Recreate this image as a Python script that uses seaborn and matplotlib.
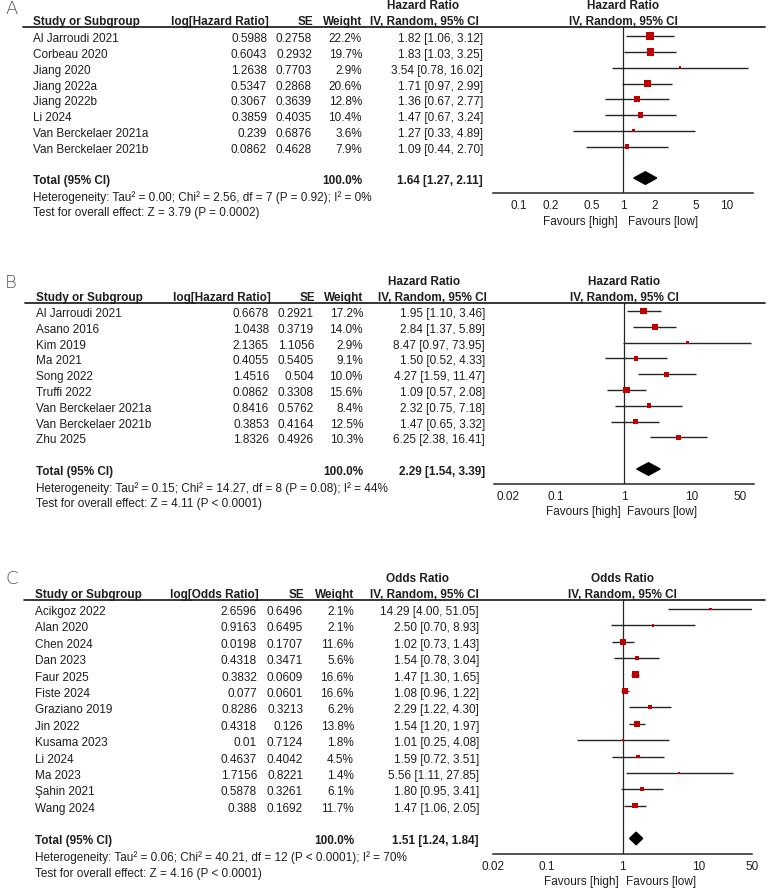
import matplotlib
matplotlib.use("Agg")
import matplotlib.pyplot as plt
import seaborn as sns
import pandas as pd

sns.set_style("white")
plt.rcParams['font.family'] = ['Liberation Sans', 'DejaVu Sans']

# Panel A: hazard ratio (outcome 1)
studies_a = ["Al Jarroudi 2021", "Corbeau 2020", "Jiang 2020", "Jiang 2022a", "Jiang 2022b",
             "Li 2024", "Van Berckelaer 2021a", "Van Berckelaer 2021b"]
loghr_a = [0.5988, 0.6043, 1.2638, 0.5347, 0.3067, 0.3859, 0.239, 0.0862]
se_a = [0.2758, 0.2932, 0.7703, 0.2868, 0.3639, 0.4035, 0.6876, 0.4628]
weight_a = [22.2, 19.7, 2.9, 20.6, 12.8, 10.4, 3.6, 7.9]
hr_a = [1.82, 1.83, 3.54, 1.71, 1.36, 1.47, 1.27, 1.09]
lo_a = [1.06, 1.03, 0.78, 0.97, 0.67, 0.67, 0.33, 0.44]
hi_a = [3.12, 3.25, 16.02, 2.99, 2.77, 3.24, 4.89, 2.70]
total_a = [1.64, 1.27, 2.11]
het_a = "Heterogeneity: Tau² = 0.00; Chi² = 2.56, df = 7 (P = 0.92); I² = 0%"
test_a = "Test for overall effect: Z = 3.79 (P = 0.0002)"
ticks_a = [0.1, 0.2, 0.5, 1, 2, 5, 10]

# Panel B: hazard ratio (outcome 2)
studies_b = ["Al Jarroudi 2021", "Asano 2016", "Kim 2019", "Ma 2021", "Song 2022", "Truffi 2022",
             "Van Berckelaer 2021a", "Van Berckelaer 2021b", "Zhu 2025"]
loghr_b = [0.6678, 1.0438, 2.1365, 0.4055, 1.4516, 0.0862, 0.8416, 0.3853, 1.8326]
se_b = [0.2921, 0.3719, 1.1056, 0.5405, 0.504, 0.3308, 0.5762, 0.4164, 0.4926]
weight_b = [17.2, 14.0, 2.9, 9.1, 10.0, 15.6, 8.4, 12.5, 10.3]
hr_b = [1.95, 2.84, 8.47, 1.50, 4.27, 1.09, 2.32, 1.47, 6.25]
lo_b = [1.10, 1.37, 0.97, 0.52, 1.59, 0.57, 0.75, 0.65, 2.38]
hi_b = [3.46, 5.89, 73.95, 4.33, 11.47, 2.08, 7.18, 3.32, 16.41]
total_b = [2.29, 1.54, 3.39]
het_b = "Heterogeneity: Tau² = 0.15; Chi² = 14.27, df = 8 (P = 0.08); I² = 44%"
test_b = "Test for overall effect: Z = 4.11 (P < 0.0001)"
ticks_b = [0.02, 0.1, 1, 10, 50]

# Panel C: odds ratio
studies_c = ["Acikgoz 2022", "Alan 2020", "Chen 2024", "Dan 2023", "Faur 2025", "Fiste 2024",
             "Graziano 2019", "Jin 2022", "Kusama 2023", "Li 2024", "Ma 2023", "Şahin 2021", "Wang 2024"]
logor_c = [2.6596, 0.9163, 0.0198, 0.4318, 0.3832, 0.077, 0.8286, 0.4318, 0.01, 0.4637, 1.7156, 0.5878, 0.388]
se_c = [0.6496, 0.6495, 0.1707, 0.3471, 0.0609, 0.0601, 0.3213, 0.126, 0.7124, 0.4042, 0.8221, 0.3261, 0.1692]
weight_c = [2.1, 2.1, 11.6, 5.6, 16.6, 16.6, 6.2, 13.8, 1.8, 4.5, 1.4, 6.1, 11.7]
or_c = [14.29, 2.50, 1.02, 1.54, 1.47, 1.08, 2.29, 1.54, 1.01, 1.59, 5.56, 1.80, 1.47]
lo_c = [4.00, 0.70, 0.73, 0.78, 1.30, 0.96, 1.22, 1.20, 0.25, 0.72, 1.11, 0.95, 1.06]
hi_c = [51.05, 8.93, 1.43, 3.04, 1.65, 1.22, 4.30, 1.97, 4.08, 3.51, 27.85, 3.41, 2.05]
total_c = [1.51, 1.24, 1.84]
het_c = "Heterogeneity: Tau² = 0.06; Chi² = 40.21, df = 12 (P < 0.0001); I² = 70%"
test_c = "Test for overall effect: Z = 4.16 (P < 0.0001)"
ticks_c = [0.02, 0.1, 1, 10, 50]

W, H = 770, 893
FS = 8.5
TXT = '#1e1e1e'
LINE = '#262626'
RED = '#c00000'

fig = plt.figure(figsize=(W / 100, H / 100), dpi=100)
page = fig.add_axes([0, 0, 1, 1])
page.set_xlim(0, W)
page.set_ylim(H, 0)
page.axis('off')


def panel(letter, lay, names, est_log, se, weight, est, lo, hi, total, het, test,
          measure, est_label, xlim, ticks):
    top = lay['top']
    hy = top + 16
    line_y = hy + 4.5
    # panel letter
    page.text(lay['letter'][0], lay['letter'][1], letter, fontsize=13, color='#555555',
              ha='center', va='center', family=['DejaVu Sans'], fontweight='light')
    # table headers
    page.text(lay['mhead'], top, measure, fontsize=FS, fontweight='bold', color=TXT,
              ha='center', va='center')
    page.text(lay['name'], hy, "Study or Subgroup", fontsize=FS, fontweight='bold', color=TXT,
              va='center')
    page.text(lay['log'], hy, est_label, fontsize=FS, fontweight='bold', color=TXT,
              ha='right', va='center')
    page.text(lay['se'], hy, "SE", fontsize=FS, fontweight='bold', color=TXT,
              ha='right', va='center')
    page.text(lay['w'], hy, "Weight", fontsize=FS, fontweight='bold', color=TXT,
              ha='right', va='center')
    page.text(lay['ivx'], hy, "IV, Random, 95% CI", fontsize=FS, fontweight='bold', color=TXT,
              va='center')
    page.plot([lay['line0'], 765], [line_y, line_y], color=LINE, lw=1.3)

    step = lay['step']
    rows = [lay['row0'] + i * step for i in range(len(names))]
    for y, n, e, s, w, m, l, h in zip(rows, names, est_log, se, weight, est, lo, hi):
        page.text(lay['name'], y, n, fontsize=FS, color=TXT, va='center')
        page.text(lay['log'] - 2, y, str(e), fontsize=FS, color=TXT, ha='right', va='center')
        page.text(lay['se'] - 1, y, str(s), fontsize=FS, color=TXT, ha='right', va='center')
        page.text(lay['w'], y, f"{w:.1f}%", fontsize=FS, color=TXT, ha='right', va='center')
        page.text(lay['ci'], y, f"{m:.2f} [{l:.2f}, {h:.2f}]", fontsize=FS, color=TXT,
                  ha='right', va='center')
    ty = rows[-1] + 2 * step
    page.text(lay['name'], ty, "Total (95% CI)", fontsize=FS, fontweight='bold', color=TXT, va='center')
    page.text(lay['w'], ty, "100.0%", fontsize=FS, fontweight='bold', color=TXT, ha='right', va='center')
    page.text(lay['ci'], ty, f"{total[0]:.2f} [{total[1]:.2f}, {total[2]:.2f}]", fontsize=FS,
              fontweight='bold', color=TXT, ha='right', va='center')
    page.text(lay['name'], ty + 16.3, het, fontsize=FS, color=TXT, va='center')
    page.text(lay['name'], ty + 32.3, test, fontsize=FS, color=TXT, va='center')

    # forest plot
    x0, x1, ay = lay['plot_x0'], lay['plot_x1'], lay['axis']
    ax = fig.add_axes([x0 / W, 1 - ay / H, (x1 - x0) / W, (ay - line_y) / H])
    ax.set_xscale('log')
    ax.set_xlim(*xlim)
    ax.set_ylim(ay, line_y)
    ax.patch.set_alpha(0)
    for sp in ['top', 'left', 'right']:
        ax.spines[sp].set_visible(False)
    ax.spines['bottom'].set_color(LINE)
    ax.spines['bottom'].set_linewidth(1.1)
    ax.set_yticks([])
    ax.set_xticks(ticks)
    ax.set_xticklabels([f"{t:g}" for t in ticks])
    ax.minorticks_off()
    ax.tick_params(axis='x', direction='inout', length=5.5, width=1.0, color=LINE,
                   labelsize=FS, labelcolor=TXT, pad=2.5)
    ax.axvline(1, color=LINE, lw=0.9, zorder=1)

    my = [r - 3 for r in rows]
    ax.hlines(my, lo, hi, color=LINE, lw=1.0, zorder=2)
    df = pd.DataFrame({'est': est, 'y': my, 'w': weight})
    k = 1.35
    sns.scatterplot(data=df, x='est', y='y', size='w', sizes=(min(weight) * k, max(weight) * k),
                    marker='s', color=RED, linewidth=0, edgecolor='none', legend=False,
                    ax=ax, zorder=3)
    dy = ty - 3
    ax.fill([total[1], total[0], total[2], total[0]], [dy, dy - 6.3, dy, dy + 6.3],
            color='black', zorder=3)
    ax.set_xlabel('')
    ax.set_ylabel('')
    ax.text(1, top, measure, fontsize=FS, fontweight='bold', color=TXT, ha='center', va='center',
            clip_on=False)
    ax.text(1, hy, "IV, Random, 95% CI", fontsize=FS, fontweight='bold', color=TXT,
            ha='center', va='center', clip_on=False)
    ax.text(0.9, ay + 28.5, "Favours [high]", fontsize=FS, color=TXT, ha='right', va='center',
            clip_on=False)
    ax.text(1.11, ay + 28.5, "Favours [low]", fontsize=FS, color=TXT, ha='left', va='center',
            clip_on=False)


lay_a = dict(top=6, letter=(12, 9), name=33, log=269, se=313, w=362, ci=483, ivx=370, mhead=423,
             line0=23, row0=39.3, step=15.75, plot_x0=493, plot_x1=753, axis=193)
lay_b = dict(top=282, letter=(11, 282.5), name=36, log=271, se=315, w=363, ci=485, ivx=378,
             mhead=424, line0=25, row0=314, step=15.8, plot_x0=494, plot_x1=754, axis=484)
lay_c = dict(top=579, letter=(12, 579), name=35, log=259, se=304, w=354, ci=479, ivx=370,
             mhead=418, line0=24, row0=612, step=16.39, plot_x0=493, plot_x1=752, axis=854)

panel("A", lay_a, studies_a, loghr_a, se_a, weight_a, hr_a, lo_a, hi_a, total_a, het_a, test_a,
      "Hazard Ratio", "log[Hazard Ratio]", (10 ** -1.25, 10 ** 1.25), ticks_a)
panel("B", lay_b, studies_b, loghr_b, se_b, weight_b, hr_b, lo_b, hi_b, total_b, het_b, test_b,
      "Hazard Ratio", "log[Hazard Ratio]", (10 ** -1.91, 10 ** 1.91), ticks_b)
panel("C", lay_c, studies_c, logor_c, se_c, weight_c, or_c, lo_c, hi_c, total_c, het_c, test_c,
      "Odds Ratio", "log[Odds Ratio]", (0.02, 50), ticks_c)

fig.savefig("out.png", dpi=100)
